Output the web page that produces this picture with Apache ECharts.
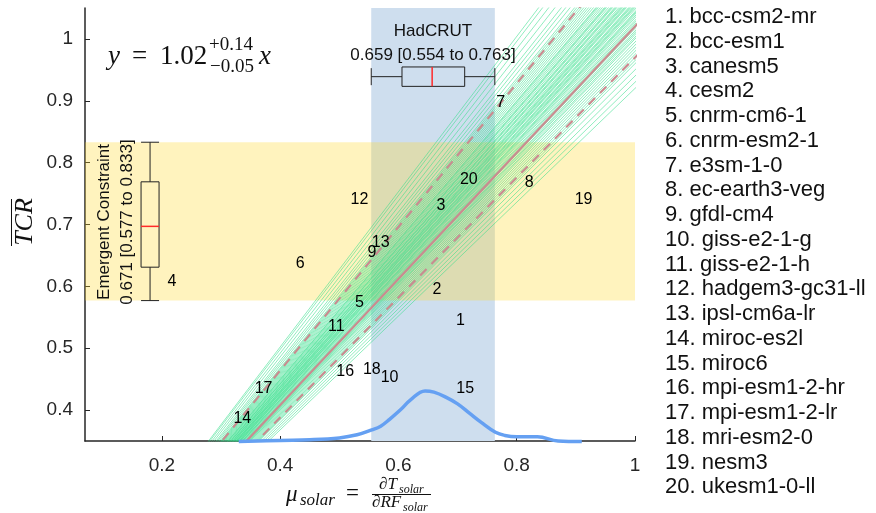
<!DOCTYPE html>
<html><head><meta charset="utf-8">
<script src="https://cdn.jsdelivr.net/npm/echarts@6/dist/echarts.min.js"></script>
<style>html,body{margin:0;padding:0;background:#fff}#c{width:876px;height:513px}</style>
</head><body><div id="c"></div>
<script>
// ---------------- data ----------------
const modelNames = ['bcc-csm2-mr','bcc-esm1','canesm5','cesm2','cnrm-cm6-1','cnrm-esm2-1','e3sm-1-0','ec-earth3-veg','gfdl-cm4','giss-e2-1-g','giss-e2-1-h','hadgem3-gc31-ll','ipsl-cm6a-lr','miroc-es2l','miroc6','mpi-esm1-2-hr','mpi-esm1-2-lr','mri-esm2-0','nesm3','ukesm1-0-ll'];
const muSolar = [0.705,0.665,0.672,0.217,0.534,0.434,0.773,0.821,0.555,0.585,0.495,0.534,0.570,0.336,0.713,0.510,0.372,0.555,0.913,0.719];
const tcr     = [0.545,0.594,0.730,0.608,0.574,0.636,0.897,0.768,0.654,0.453,0.535,0.741,0.671,0.387,0.435,0.463,0.435,0.465,0.741,0.772];
const xTicks = [0.2,0.4,0.6,0.8,1.0];
const yTicks = [0.4,0.5,0.6,0.7,0.8,0.9,1.0];
const xRange = [0.07, 1.0];
const yRange = [0.35, 1.05];
const hadcrutRange = [0.554, 0.763];
const constraintRange = [0.577, 0.833];
const hadcrutBox = [0.554, 0.606, 0.657, 0.712, 0.763];
const hadcrutBoxY = 0.939;
const constraintBox = [0.577, 0.631, 0.697, 0.769, 0.833];
const constraintBoxX = 0.18;
const fitSlope = 1.02, fitUpper = 1.16, fitLower = 0.97;
const bootstrapSlopes = [0.92,0.93,0.94,0.95,0.96,0.965,0.97,0.975,0.98,0.985,0.99,0.995,1.0,1.003,1.007,1.01,1.013,1.017,1.02,1.024,1.027,1.03,1.034,1.037,1.04,1.042,1.044,1.048,1.051,1.053,1.055,1.058,1.06,1.062,1.066,1.068,1.07,1.073,1.075,1.077,1.08,1.084,1.086,1.088,1.092,1.094,1.096,1.1,1.104,1.106,1.108,1.112,1.116,1.12,1.123,1.125,1.13,1.135,1.14,1.145,1.15,1.155,1.16,1.165,1.17,1.18,1.19,1.2,1.215,1.23,1.245,1.255];
const kdeX = [0.33,0.40,0.45,0.50,0.53,0.555,0.57,0.585,0.603,0.62,0.645,0.66,0.68,0.70,0.72,0.74,0.764,0.78,0.80,0.835,0.87,0.91];
const kdeY = [0.349,0.351,0.352,0.355,0.360,0.368,0.374,0.385,0.400,0.416,0.431,0.429,0.421,0.410,0.395,0.380,0.364,0.359,0.357,0.357,0.350,0.349];

// ---------------- chart ----------------
const AX = '#262626';
const SANS = 'Liberation Sans, Arial, Helvetica, sans-serif';
const SERIF = 'Liberation Serif, Times New Roman, serif';
const chart = echarts.init(document.getElementById('c'), null, {renderer:'canvas'});
const fmt = v => String(+(+v).toFixed(1));

const series = [];
// bands
series.push({
  type:'custom', silent:true, z:1, data:[[0]],
  renderItem:(p, api) => {
    const a = api.coord([hadcrutRange[0], yRange[1]]), b = api.coord([hadcrutRange[1], yRange[0]]);
    const c = api.coord([xRange[0], constraintRange[1]]), d = api.coord([xRange[1], constraintRange[0]]);
    return {type:'group', children:[
      {type:'rect', shape:{x:a[0], y:a[1], width:b[0]-a[0], height:b[1]-a[1]}, style:{fill:'rgb(206,222,238)'}},
      {type:'rect', shape:{x:c[0], y:c[1], width:d[0]-c[0], height:d[1]-c[1]}, style:{fill:'rgba(255,214,40,0.3)'}}
    ]};
  }
});
// bootstrap lines
bootstrapSlopes.forEach(s => {
  series.push({type:'line', silent:true, z:2, clip:true, showSymbol:false, symbol:'none',
    data:[[0.2, 0.2*s],[1.1, 1.1*s]],
    lineStyle:{color:'rgba(55,222,140,0.62)', width:0.9}});
});
// fit lines
[[fitSlope,'solid'],[fitUpper,[9,7]],[fitLower,[9,7]]].forEach(([s,t]) => {
  series.push({type:'line', silent:true, z:3, clip:true, symbol:'none',
    data:[[0.2,0.2*s],[1.1,1.1*s]],
    lineStyle:{color:'#c98c90', width:2.2, type:t}});
});
// KDE
series.push({type:'line', silent:true, z:4, clip:false, symbol:'none', smooth:0.4,
  data:kdeX.map((x,i)=>[x,kdeY[i]]),
  lineStyle:{color:'#65a0f2', width:3.5}});
// model labels
series.push({type:'custom', silent:true, z:6,
  data:muSolar.map((x,i)=>[x,tcr[i],i+1]),
  renderItem:(p, api) => {
    const c = api.coord([api.value(0), api.value(1)]);
    return {type:'text', x:c[0], y:c[1], style:{text:String(api.value(2)), font:'16px '+SANS, fill:'#000', align:'center', verticalAlign:'middle'}};
  }});
// HadCRUT box (horizontal)
series.push({type:'custom', silent:true, z:7, data:[hadcrutBox.concat([hadcrutBoxY])],
  renderItem:(p, api) => {
    const v = [0,1,2,3,4].map(i=>api.coord([api.value(i), api.value(5)]));
    const y = v[0][1], hb = 9.7, hc = 8.5;
    const ls = {stroke:'#222', lineWidth:1, fill:null};
    return {type:'group', children:[
      {type:'line', shape:{x1:v[0][0],y1:y,x2:v[1][0],y2:y}, style:ls},
      {type:'line', shape:{x1:v[3][0],y1:y,x2:v[4][0],y2:y}, style:ls},
      {type:'line', shape:{x1:v[0][0],y1:y-hc,x2:v[0][0],y2:y+hc}, style:ls},
      {type:'line', shape:{x1:v[4][0],y1:y-hc,x2:v[4][0],y2:y+hc}, style:ls},
      {type:'rect', shape:{x:v[1][0],y:y-hb,width:v[3][0]-v[1][0],height:2*hb}, style:{stroke:'#222',lineWidth:1,fill:'none'}},
      {type:'line', shape:{x1:v[2][0],y1:y-hb,x2:v[2][0],y2:y+hb}, style:{stroke:'#ff2a2a',lineWidth:1.5}}
    ]};
  }});
// Emergent constraint box (vertical)
series.push({type:'custom', silent:true, z:7, data:[constraintBox.concat([constraintBoxX])],
  renderItem:(p, api) => {
    const v = [0,1,2,3,4].map(i=>api.coord([api.value(5), api.value(i)]));
    const x = v[0][0], hb = 9, hc = 9;
    const ls = {stroke:'#222', lineWidth:1, fill:null};
    return {type:'group', children:[
      {type:'line', shape:{x1:x,y1:v[0][1],x2:x,y2:v[1][1]}, style:ls},
      {type:'line', shape:{x1:x,y1:v[3][1],x2:x,y2:v[4][1]}, style:ls},
      {type:'line', shape:{x1:x-hc,y1:v[0][1],x2:x+hc,y2:v[0][1]}, style:ls},
      {type:'line', shape:{x1:x-hc,y1:v[4][1],x2:x+hc,y2:v[4][1]}, style:ls},
      {type:'rect', shape:{x:x-hb,y:v[3][1],width:2*hb,height:v[1][1]-v[3][1]}, style:{stroke:'#222',lineWidth:1,fill:'none'}},
      {type:'line', shape:{x1:x-hb,y1:v[2][1],x2:x+hb,y2:v[2][1]}, style:{stroke:'#ff2a2a',lineWidth:1.5}}
    ]};
  }});

// ---------------- text graphics ----------------
const graphic = [];
const T = (x,y,text,font,opts={}) => graphic.push(Object.assign({type:'text', x, y, silent:true, z:100,
  style:Object.assign({text, font, fill:'#111', align:'left', verticalAlign:'middle'}, opts.style||{})}, opts.el||{}));
// legend
modelNames.forEach((n,i)=> T(665, 17 + i*24.75, (i+1)+'. '+n, '22px '+SANS));
// equation
T(108, 57, 'y', 'italic 27px '+SERIF);
T(132, 57, '=', '27px '+SERIF);
T(160, 57, '1.02', '27px '+SERIF);
T(209, 45, '+0.14', '19px '+SERIF);
T(210, 67, '\u22120.05', '19px '+SERIF);
T(259, 57, 'x', 'italic 27px '+SERIF);
// HadCRUT
T(433, 31, 'HadCRUT', '17px '+SANS, {style:{align:'center'}});
T(433, 55, '0.659 [0.554 to 0.763]', '17px '+SANS, {style:{align:'center'}});
// Emergent constraint (rotated)
T(104, 222, 'Emergent Constraint', '17px '+SANS, {style:{align:'center'}, el:{rotation:Math.PI/2}});
T(127, 222, '0.671 [0.577 to 0.833]', '17px '+SANS, {style:{align:'center'}, el:{rotation:Math.PI/2}});
// y label
T(25, 222, 'TCR', 'italic 26px '+SERIF, {style:{align:'center'}, el:{rotation:Math.PI/2}});
graphic.push({type:'line', silent:true, shape:{x1:11.5,y1:199,x2:11.5,y2:246}, style:{stroke:'#111', lineWidth:1}});
// x label
T(286, 495, '\u03bc', 'italic 23px '+SERIF);
T(300, 501, 'solar', 'italic 17px '+SERIF);
T(346, 494, '=', '23px '+SERIF);
T(379, 485, '\u2202T', 'italic 17px '+SERIF);
T(399, 490, 'solar', 'italic 12px '+SERIF);
graphic.push({type:'line', silent:true, shape:{x1:372,y1:494.5,x2:431,y2:494.5}, style:{stroke:'#111', lineWidth:1}});
T(372, 503, '\u2202RF', 'italic 17px '+SERIF);
T(403, 508, 'solar', 'italic 12px '+SERIF);

chart.setOption({
  animation:false,
  backgroundColor:'#fff',
  grid:{left:85, right:241, top:8, bottom:72, containLabel:false},
  xAxis:{type:'value', min:xRange[0], max:xRange[1],
    axisLine:{show:true, onZero:false, lineStyle:{color:AX, width:1.5}},
    axisTick:{show:true, inside:true, length:5, customValues:xTicks, lineStyle:{color:AX, width:1}},
    axisLabel:{customValues:xTicks, formatter:fmt, fontSize:19, color:AX, margin:15, fontFamily:SANS},
    splitLine:{show:false}},
  yAxis:{type:'value', min:yRange[0], max:yRange[1],
    axisLine:{show:true, onZero:false, lineStyle:{color:AX, width:1.5}},
    axisTick:{show:true, inside:true, length:5, customValues:yTicks, lineStyle:{color:AX, width:1}},
    axisLabel:{customValues:yTicks, formatter:fmt, fontSize:19, color:AX, margin:12, fontFamily:SANS},
    splitLine:{show:false}},
  series, graphic
});
</script></body></html>
